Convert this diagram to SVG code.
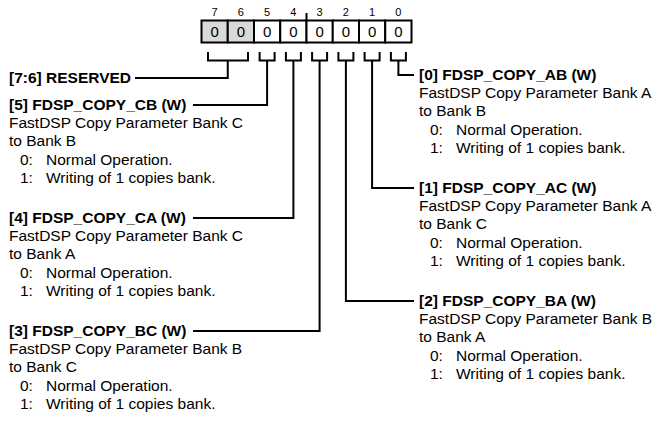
<svg xmlns="http://www.w3.org/2000/svg" width="668" height="426" viewBox="0 0 668 426">
<style>
.t{font-family:"Liberation Sans",Arial,sans-serif;font-size:15.5px;fill:#000}
.b{font-weight:bold}
.n{font-family:"Liberation Sans",Arial,sans-serif;font-size:11px;fill:#000;text-anchor:middle}
.v{font-family:"Liberation Sans",Arial,sans-serif;font-size:15px;fill:#000;text-anchor:middle}
.cell{stroke:#000;stroke-width:2;fill:#fff}
.res{fill:#d9d9d9}
.ln{fill:none;stroke:#000;stroke-width:2}
</style>
<rect width="668" height="426" fill="#fff"/>
<g id="register">
<rect class="cell res" x="201.5" y="20.5" width="26.25" height="22"/>
<rect class="cell res" x="227.75" y="20.5" width="26.25" height="22"/>
<rect class="cell" x="254" y="20.5" width="26.25" height="22"/>
<rect class="cell" x="280.25" y="20.5" width="26.25" height="22"/>
<rect class="cell" x="306.5" y="20.5" width="26.25" height="22"/>
<rect class="cell" x="332.75" y="20.5" width="26.25" height="22"/>
<rect class="cell" x="359" y="20.5" width="26.25" height="22"/>
<rect class="cell" x="385.25" y="20.5" width="26.25" height="22"/>
<line class="ln" x1="306.5" y1="13" x2="306.5" y2="20.5"/>
<text class="n" x="214.6" y="16">7</text>
<text class="n" x="240.9" y="16">6</text>
<text class="n" x="267.1" y="16">5</text>
<text class="n" x="293.4" y="16">4</text>
<text class="n" x="319.6" y="16">3</text>
<text class="n" x="345.9" y="16">2</text>
<text class="n" x="372.1" y="16">1</text>
<text class="n" x="398.4" y="16">0</text>
<text class="v" x="214.6" y="37">0</text>
<text class="v" x="240.9" y="37">0</text>
<text class="v" x="267.1" y="37">0</text>
<text class="v" x="293.4" y="37">0</text>
<text class="v" x="319.6" y="37">0</text>
<text class="v" x="345.9" y="37">0</text>
<text class="v" x="372.1" y="37">0</text>
<text class="v" x="398.4" y="37">0</text>
</g>
<g id="connectors">
<path class="ln" d="M208 52V60.5H248V52M227.75 60.5V78H135"/>
<path class="ln" d="M259.6 52V60.5H274.6V52M267.1 60.5V105H193"/>
<path class="ln" d="M285.9 52V60.5H300.9V52M293.4 60.5V218H193"/>
<path class="ln" d="M312.1 52V60.5H327.1V52M319.6 60.5V331H193"/>
<path class="ln" d="M338.4 52V60.5H353.4V52M345.9 60.5V301H414"/>
<path class="ln" d="M364.6 52V60.5H379.6V52M372.1 60.5V188H414"/>
<path class="ln" d="M390.9 52V60.5H405.9V52M398.4 60.5V75H414"/>
</g>
<g id="field-7-6">
<text class="t b" x="9" y="83">[7:6] RESERVED</text>
</g>
<g id="field-5">
<text class="t b" x="9" y="110">[5] FDSP_COPY_CB (W)</text>
<text class="t" x="9" y="127.5">FastDSP Copy Parameter Bank C</text>
<text class="t" x="9" y="146">to Bank B</text>
<text class="t" x="20" y="164.5">0:</text><text class="t" x="46" y="164.5">Normal Operation.</text>
<text class="t" x="20" y="183">1:</text><text class="t" x="46" y="183">Writing of 1 copies bank.</text>
</g>
<g id="field-4">
<text class="t b" x="9" y="223">[4] FDSP_COPY_CA (W)</text>
<text class="t" x="9" y="240.5">FastDSP Copy Parameter Bank C</text>
<text class="t" x="9" y="259">to Bank A</text>
<text class="t" x="20" y="277.5">0:</text><text class="t" x="46" y="277.5">Normal Operation.</text>
<text class="t" x="20" y="296">1:</text><text class="t" x="46" y="296">Writing of 1 copies bank.</text>
</g>
<g id="field-3">
<text class="t b" x="9" y="336">[3] FDSP_COPY_BC (W)</text>
<text class="t" x="9" y="353.5">FastDSP Copy Parameter Bank B</text>
<text class="t" x="9" y="372">to Bank C</text>
<text class="t" x="20" y="390.5">0:</text><text class="t" x="46" y="390.5">Normal Operation.</text>
<text class="t" x="20" y="409">1:</text><text class="t" x="46" y="409">Writing of 1 copies bank.</text>
</g>
<g id="field-0">
<text class="t b" x="419" y="80">[0] FDSP_COPY_AB (W)</text>
<text class="t" x="419" y="97.5">FastDSP Copy Parameter Bank A</text>
<text class="t" x="419" y="116">to Bank B</text>
<text class="t" x="430" y="134.5">0:</text><text class="t" x="456" y="134.5">Normal Operation.</text>
<text class="t" x="430" y="153">1:</text><text class="t" x="456" y="153">Writing of 1 copies bank.</text>
</g>
<g id="field-1">
<text class="t b" x="419" y="193">[1] FDSP_COPY_AC (W)</text>
<text class="t" x="419" y="210.5">FastDSP Copy Parameter Bank A</text>
<text class="t" x="419" y="229">to Bank C</text>
<text class="t" x="430" y="247.5">0:</text><text class="t" x="456" y="247.5">Normal Operation.</text>
<text class="t" x="430" y="266">1:</text><text class="t" x="456" y="266">Writing of 1 copies bank.</text>
</g>
<g id="field-2">
<text class="t b" x="419" y="306">[2] FDSP_COPY_BA (W)</text>
<text class="t" x="419" y="323.5">FastDSP Copy Parameter Bank B</text>
<text class="t" x="419" y="342">to Bank A</text>
<text class="t" x="430" y="360.5">0:</text><text class="t" x="456" y="360.5">Normal Operation.</text>
<text class="t" x="430" y="379">1:</text><text class="t" x="456" y="379">Writing of 1 copies bank.</text>
</g>
</svg>
